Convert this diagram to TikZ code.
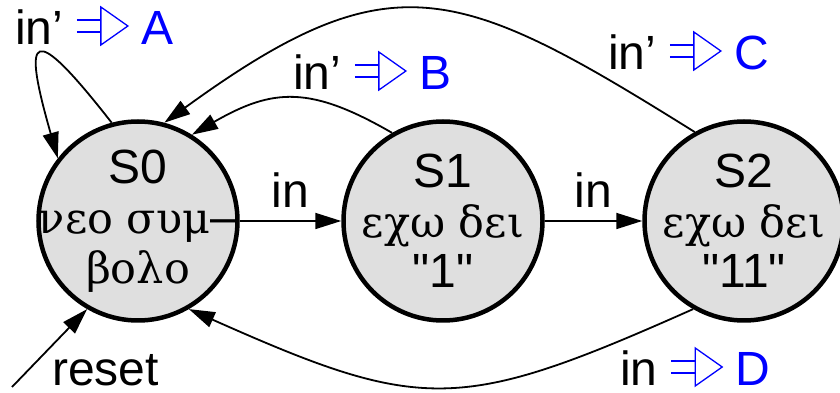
\documentclass[tikz,border=0pt]{standalone}
\usepackage{fontspec}
\setmainfont{Liberation Sans}[Ligatures=TeXOff]
\newfontfamily\grkserif{DejaVu Serif}[Ligatures=TeXOff]
\usetikzlibrary{arrows.meta}

% output arrow: two bars into an open triangle
\newcommand{\emitsym}{\tikz[baseline=0pt,x=1pt,y=1pt,blue,line width=1.3pt]{%
    \draw (0,13) -- (24,13) (0,25) -- (24,25);
    \draw (24,0) -- (51,19) -- (24,38) -- cycle;}}
\newcommand{\emitlbl}[2]{#1\hspace{13pt}\emitsym\hspace{13pt}\textcolor{blue}{#2}}
\newcommand{\grk}[1]{{\grkserif\fontsize{43}{50}\selectfont #1}}

\begin{document}
\begin{tikzpicture}[
		x=1pt,
		y=1pt,
		font=\fontsize{48}{50}\selectfont,
		state/.style={circle, draw, line width=4.5pt, fill=gray!25, minimum size=199pt, inner sep=0pt},
		stxt/.style={align=center, inner sep=0pt},
		edge/.style={-{Triangle[length=26pt,width=16pt]}, line width=1.8pt},
		lbl/.style={inner sep=0pt, anchor=base west}
		]
		\useasboundingbox (0,0) rectangle (840,393);
		
		% States
		\node[state] (S0) at (138,172) {};
		\node[state] (S1) at (443,172) {};
		\node[state] (S2) at (744,172) {};
		\node[stxt] (S0txt) at (S0) {S0\\\grk{νεο συμ}–\\\grk{βολο}};
		\node[stxt] (S1txt) at (S1) {S1\\\grk{εχω δει}\\"1"};
		\node[stxt] (S2txt) at (S2) {S2\\\grk{εχω δει}\\"11"};
		
		% Transitions
		\draw[edge] (S0) -- node[above=13pt, inner sep=0pt] (t01) {in} (S1);
		\draw[edge] (S1) -- node[above=13pt, inner sep=0pt] (t12) {in} (S2);
		\draw[edge] (S1.120) to[out=150, in=30, looseness=1.2] (S0.58);
		\draw[edge] (S2.119) to[out=148, in=36, looseness=1.35] (S0.75);
		\draw[edge] (S2.240) to[out=204, in=336, looseness=1.3] (S0.300);
		\draw[edge] (S0.105) to[out=128, in=106, looseness=5.2] (S0.142);
		
		% Reset
		\coordinate (rst) at (12,6);
		\draw[edge] (rst) -- (S0.240);
		\node[lbl] (rlbl) at (52,7) {reset};
		
		% Outputs
		\node[lbl] (oA) at (15,348) {\emitlbl{in’}{A}};
		\node[lbl] (oB) at (293,303) {\emitlbl{in’}{B}};
		\node[lbl] (oC) at (608,323) {\emitlbl{in’}{C}};
		\node[lbl] (oD) at (620,7) {\emitlbl{in}{D}};
	\end{tikzpicture}
\end{document}
